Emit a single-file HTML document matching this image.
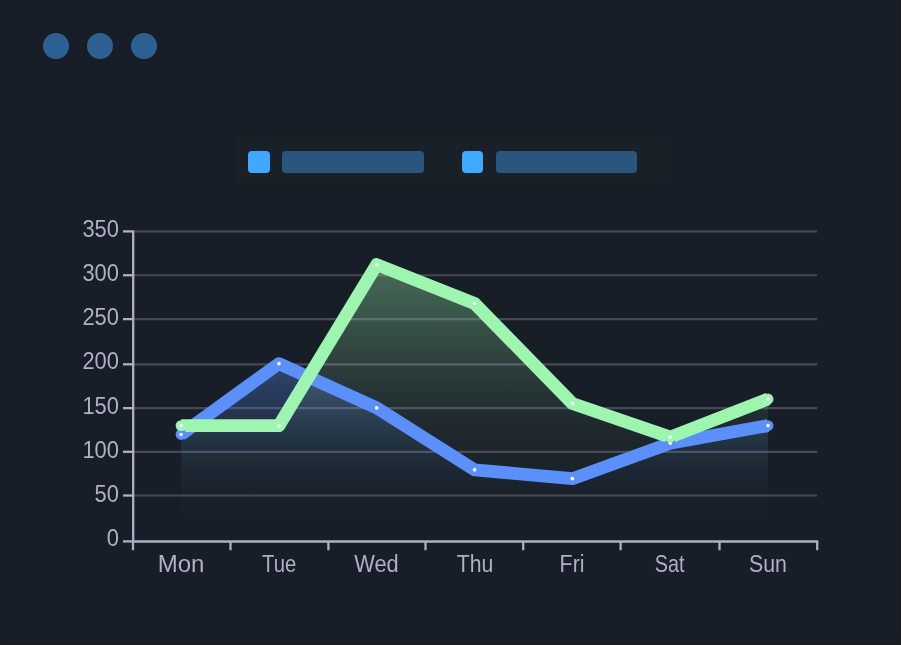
<!DOCTYPE html>
<html lang="en"><head><meta charset="utf-8"><title>Chart</title>
<style>
html,body{margin:0;padding:0;background:#181c1e;}
body{width:901px;height:645px;overflow:hidden;position:relative;font-family:"Liberation Sans",sans-serif;}
.card{position:absolute;left:0;top:1px;width:900px;height:643px;background:#181e27;border-radius:5px;}
.dot{position:absolute;top:33px;width:26.4px;height:26.4px;border-radius:50%;background:#2d6092;}
.legend{position:absolute;left:236px;top:137px;width:429.3px;height:46.8px;background:#1a2027;}
.sq{position:absolute;top:151.2px;width:21.4px;height:21.9px;border-radius:4px;background:#40a9ff;}
.bar{position:absolute;top:151.2px;width:141.7px;height:21.9px;border-radius:4px;background:#2a567e;}
svg{position:absolute;left:0;top:0;}
text{font-family:"Liberation Sans",sans-serif;fill:#b0afc6;}
.yl{font-size:24.6px;}
.xl{font-size:24px;}
</style></head><body>
<div class="card"></div>
<div class="dot" style="left:43px"></div><div class="dot" style="left:86.9px"></div><div class="dot" style="left:131px"></div>
<div class="legend"></div>
<div class="sq" style="left:248.3px"></div><div class="bar" style="left:281.9px"></div>
<div class="sq" style="left:462px"></div><div class="bar" style="left:495.8px"></div>
<svg width="901" height="645" viewBox="0 0 901 645">
<defs>
<linearGradient id="gb" gradientUnits="userSpaceOnUse" x1="0" y1="364" x2="0" y2="540.6"><stop offset="0.0000" stop-color="#5b8ff9" stop-opacity="0.34"/><stop offset="0.2888" stop-color="#5b8ff9" stop-opacity="0.19"/><stop offset="0.4304" stop-color="#4e9cfa" stop-opacity="0.108"/><stop offset="0.6002" stop-color="#4e9cfa" stop-opacity="0.04"/><stop offset="0.7701" stop-color="#4e9cfa" stop-opacity="0.009"/><stop offset="0.9117" stop-color="#4e9cfa" stop-opacity="0"/><stop offset="1.0000" stop-color="#4e9cfa" stop-opacity="0"/></linearGradient>
<linearGradient id="gg" gradientUnits="userSpaceOnUse" x1="0" y1="264" x2="0" y2="540.6"><stop offset="0.0000" stop-color="#9df5b0" stop-opacity="0.36"/><stop offset="0.1302" stop-color="#9df5b0" stop-opacity="0.29"/><stop offset="0.2748" stop-color="#9df5b0" stop-opacity="0.205"/><stop offset="0.4555" stop-color="#9df5b0" stop-opacity="0.105"/><stop offset="0.6001" stop-color="#9df5b0" stop-opacity="0.047"/><stop offset="0.7448" stop-color="#9df5b0" stop-opacity="0.02"/><stop offset="0.8532" stop-color="#9df5b0" stop-opacity="0.005"/><stop offset="0.9436" stop-color="#9df5b0" stop-opacity="0"/><stop offset="1.0000" stop-color="#9df5b0" stop-opacity="0"/></linearGradient>
</defs>

<line x1="133.2" x2="817.2" y1="495.5" y2="495.5" stroke="#484753" stroke-width="2.2"/>
<line x1="133.2" x2="817.2" y1="451.8" y2="451.8" stroke="#484753" stroke-width="2.2"/>
<line x1="133.2" x2="817.2" y1="408.15" y2="408.15" stroke="#484753" stroke-width="2.2"/>
<line x1="133.2" x2="817.2" y1="364.3" y2="364.3" stroke="#484753" stroke-width="2.2"/>
<line x1="133.2" x2="817.2" y1="319.1" y2="319.1" stroke="#484753" stroke-width="2.2"/>
<line x1="133.2" x2="817.2" y1="275.25" y2="275.25" stroke="#484753" stroke-width="2.2"/>
<line x1="133.2" x2="817.2" y1="231.4" y2="231.4" stroke="#484753" stroke-width="2.2"/>
<polygon points="181.10,434.45 278.92,363.68 376.74,407.91 474.56,469.83 572.38,478.68 670.20,443.29 768.02,425.60 768.02,540.6 181.10,540.6" fill="url(#gb)"/>
<polygon points="181.10,425.60 278.92,425.60 376.74,264.60 474.56,303.53 572.38,403.49 670.20,437.10 768.02,399.06 768.02,540.6 181.10,540.6" fill="url(#gg)"/>
<polyline points="181.10,434.45 278.92,363.68 376.74,407.91 474.56,469.83 572.38,478.68 670.20,443.29 768.02,425.60" fill="none" stroke="#5b8ff9" stroke-width="12.8" stroke-linejoin="round" stroke-linecap="butt"/>
<polyline points="181.10,425.60 278.92,425.60 376.74,264.60 474.56,303.53 572.38,403.49 670.20,437.10 768.02,399.06" fill="none" stroke="#9df5b0" stroke-width="12.8" stroke-linejoin="round" stroke-linecap="butt"/>
<circle cx="181.10" cy="434.45" r="3.65" fill="#fff" stroke="#5b8ff9" stroke-width="3.65"/>
<circle cx="278.92" cy="363.68" r="3.65" fill="#fff" stroke="#5b8ff9" stroke-width="3.65"/>
<circle cx="376.74" cy="407.91" r="3.65" fill="#fff" stroke="#5b8ff9" stroke-width="3.65"/>
<circle cx="474.56" cy="469.83" r="3.65" fill="#fff" stroke="#5b8ff9" stroke-width="3.65"/>
<circle cx="572.38" cy="478.68" r="3.65" fill="#fff" stroke="#5b8ff9" stroke-width="3.65"/>
<circle cx="670.20" cy="443.29" r="3.65" fill="#fff" stroke="#5b8ff9" stroke-width="3.65"/>
<circle cx="768.02" cy="425.60" r="3.65" fill="#fff" stroke="#5b8ff9" stroke-width="3.65"/>
<circle cx="181.10" cy="425.60" r="3.65" fill="#fff" stroke="#9df5b0" stroke-width="3.65"/>
<circle cx="278.92" cy="425.60" r="3.65" fill="#fff" stroke="#9df5b0" stroke-width="3.65"/>
<circle cx="376.74" cy="264.60" r="3.65" fill="#fff" stroke="#9df5b0" stroke-width="3.65"/>
<circle cx="474.56" cy="303.53" r="3.65" fill="#fff" stroke="#9df5b0" stroke-width="3.65"/>
<circle cx="572.38" cy="403.49" r="3.65" fill="#fff" stroke="#9df5b0" stroke-width="3.65"/>
<circle cx="670.20" cy="437.10" r="3.65" fill="#fff" stroke="#9df5b0" stroke-width="3.65"/>
<circle cx="768.02" cy="399.06" r="3.65" fill="#fff" stroke="#9df5b0" stroke-width="3.65"/>
<line x1="133.2" x2="133.2" y1="230.4" y2="542.5" stroke="#b0afc6" stroke-width="2.3"/>
<line x1="132.2" x2="818.2" y1="541.5" y2="541.5" stroke="#b0afc6" stroke-width="2.3"/>
<line x1="122.99999999999999" x2="133.2" y1="541.4" y2="541.4" stroke="#b0afc6" stroke-width="2.3"/>
<text class="yl" transform="translate(118.9,546.40) scale(0.89,1)" text-anchor="end">0</text>
<line x1="122.99999999999999" x2="133.2" y1="495.5" y2="495.5" stroke="#b0afc6" stroke-width="2.3"/>
<text class="yl" transform="translate(118.9,502.17) scale(0.89,1)" text-anchor="end">50</text>
<line x1="122.99999999999999" x2="133.2" y1="451.8" y2="451.8" stroke="#b0afc6" stroke-width="2.3"/>
<text class="yl" transform="translate(118.9,457.94) scale(0.89,1)" text-anchor="end">100</text>
<line x1="122.99999999999999" x2="133.2" y1="408.15" y2="408.15" stroke="#b0afc6" stroke-width="2.3"/>
<text class="yl" transform="translate(118.9,413.71) scale(0.89,1)" text-anchor="end">150</text>
<line x1="122.99999999999999" x2="133.2" y1="364.3" y2="364.3" stroke="#b0afc6" stroke-width="2.3"/>
<text class="yl" transform="translate(118.9,369.48) scale(0.89,1)" text-anchor="end">200</text>
<line x1="122.99999999999999" x2="133.2" y1="319.1" y2="319.1" stroke="#b0afc6" stroke-width="2.3"/>
<text class="yl" transform="translate(118.9,325.25) scale(0.89,1)" text-anchor="end">250</text>
<line x1="122.99999999999999" x2="133.2" y1="275.25" y2="275.25" stroke="#b0afc6" stroke-width="2.3"/>
<text class="yl" transform="translate(118.9,281.02) scale(0.89,1)" text-anchor="end">300</text>
<line x1="122.99999999999999" x2="133.2" y1="231.4" y2="231.4" stroke="#b0afc6" stroke-width="2.3"/>
<text class="yl" transform="translate(118.9,236.79) scale(0.89,1)" text-anchor="end">350</text>
<line x1="133.0" x2="133.0" y1="541.5" y2="550.2" stroke="#b0afc6" stroke-width="2.3"/>
<line x1="230.5" x2="230.5" y1="541.5" y2="550.2" stroke="#b0afc6" stroke-width="2.3"/>
<line x1="328.4" x2="328.4" y1="541.5" y2="550.2" stroke="#b0afc6" stroke-width="2.3"/>
<line x1="425.5" x2="425.5" y1="541.5" y2="550.2" stroke="#b0afc6" stroke-width="2.3"/>
<line x1="523.2" x2="523.2" y1="541.5" y2="550.2" stroke="#b0afc6" stroke-width="2.3"/>
<line x1="620.6" x2="620.6" y1="541.5" y2="550.2" stroke="#b0afc6" stroke-width="2.3"/>
<line x1="719.5" x2="719.5" y1="541.5" y2="550.2" stroke="#b0afc6" stroke-width="2.3"/>
<line x1="817.2" x2="817.2" y1="541.5" y2="550.2" stroke="#b0afc6" stroke-width="2.3"/>
<text class="xl" transform="translate(181.10,571.7) scale(1.0000,1)" text-anchor="middle">Mon</text>
<text class="xl" transform="translate(279.15,571.7) scale(0.8450,1)" text-anchor="middle">Tue</text>
<text class="xl" transform="translate(376.45,571.7) scale(0.9100,1)" text-anchor="middle">Wed</text>
<text class="xl" transform="translate(475.10,571.7) scale(0.8850,1)" text-anchor="middle">Thu</text>
<text class="xl" transform="translate(572.05,571.7) scale(0.8900,1)" text-anchor="middle">Fri</text>
<text class="xl" transform="translate(669.65,571.7) scale(0.8250,1)" text-anchor="middle">Sat</text>
<text class="xl" transform="translate(768.00,571.7) scale(0.8900,1)" text-anchor="middle">Sun</text>
</svg></body></html>
